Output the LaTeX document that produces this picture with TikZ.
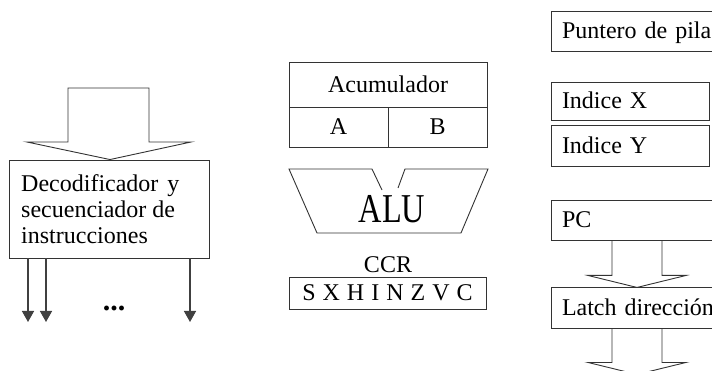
\documentclass[tikz,border=0pt]{standalone}
\usepackage{fontspec}
\setmainfont{Liberation Serif}
\newfontfamily\alufont[FakeStretch=0.79]{Liberation Serif}
\usetikzlibrary{arrows.meta}

\newcommand\flaggap{\hspace{7pt}}

\tikzset{
  boxline/.style={draw=black!80, line width=0.9pt},
  txt/.style={font=\fontsize{24}{26}\selectfont, text=black},
  reg/.style={boxline, txt, rectangle, inner sep=0pt, text height=16pt, text depth=0pt},
  regl/.style={reg, align=left, inner xsep=11pt},
  sig/.style={draw=black!75, line width=1.4pt, -{Triangle[width=12pt,length=11pt]}},
  pics/blockarrow/.style n args={4}{code={
    % #1 half shaft width, #2 shaft length, #3 half head width, #4 head length
    \draw[boxline, line join=miter] (-#1,0) -- (-#1,#2) -- (-#3,#2) -- (0,#2+#4)
      -- (#3,#2) -- (#1,#2) -- (#1,0);
  }}
}

\begin{document}
\begin{tikzpicture}[x=1pt, y=-1pt]
\useasboundingbox (0,0) rectangle (712,371);
\clip (0,0) rectangle (712,371);

% ---------- decoder / sequencer ----------
\node[boxline, rectangle, minimum width=200pt, minimum height=98pt, inner sep=0pt]
  (dec) at (109,209) {};
\node[txt, align=left, anchor=north west, inner sep=0pt] (dectext) at (21,174.6)
  {Decodificador\hspace{3pt} y\\secuenciador de\\instrucciones};

% wide input arrow into the decoder
\draw[boxline, line join=miter] (68,88) -- (149,88) -- (149,142) -- (191,142)
  -- (dec.north -| 110,0) -- (27,142) -- (68,142) -- cycle;

% control outputs
\coordinate (o1) at (28,322);
\coordinate (o2) at (46,322);
\coordinate (o3) at (190,322);
\draw[sig] (dec.south -| o1) -- (o1);
\draw[sig] (dec.south -| o2) -- (o2);
\draw[sig] (dec.south -| o3) -- (o3);
\node[font=\fontsize{30}{30}\selectfont\bfseries, anchor=base, inner sep=0pt] (dots)
  at (114,310) {...};

% ---------- accumulator, ALU, CCR ----------
\node[reg, minimum width=198pt, minimum height=45pt] (acc) at (388,84.5) {Acumulador};
\node[reg, minimum width=99pt, minimum height=40pt] (rega) at (338.5,127) {A};
\node[reg, minimum width=99pt, minimum height=40pt] (regb) at (437.5,127) {B};

% ALU outline with the notch on top
\draw[boxline, line join=miter] (372,169) -- (289,169) -- (317,233) -- (461,233)
  -- (488,169) -- (405,169) -- (398,188);
\draw[boxline] (372,169) -- (382,190);
\node[inner sep=0pt, anchor=base, font=\alufont\fontsize{41}{41}\selectfont] (alu)
  at (392,223) {ALU};

\node[txt, anchor=base, inner sep=0pt] (ccrlabel) at (388,273) {CCR};
\node[reg, minimum width=197pt, minimum height=32pt] (ccr) at (387.5,293)
  {S\flaggap X\flaggap H\flaggap I\flaggap N\flaggap Z\flaggap V\flaggap C};

% ---------- address registers ----------
\node[regl, minimum width=189pt, minimum height=40pt, text width=167pt]
  (sp) at (645.5,31) {Puntero de pila};
\node[regl, minimum width=158pt, minimum height=38pt, text width=136pt]
  (ix) at (630,101) {Indice X};
\node[regl, minimum width=158pt, minimum height=41pt, text width=136pt]
  (iy) at (630,145.5) {Indice Y};
\node[regl, minimum width=189pt, minimum height=40pt, text width=167pt]
  (pc) at (645.5,220) {PC};
\node[regl, minimum width=189pt, minimum height=41pt, text width=167pt]
  (latch) at (645.5,307.5) {Latch dirección};

\coordinate (pcout) at (pc.south -| 637,0);
\coordinate (latchout) at (latch.south -| 637,0);
\pic at (pcout) {blockarrow={25}{35}{49}{12}};
\pic at (latchout) {blockarrow={25}{34}{49}{12}};
\end{tikzpicture}
\end{document}
